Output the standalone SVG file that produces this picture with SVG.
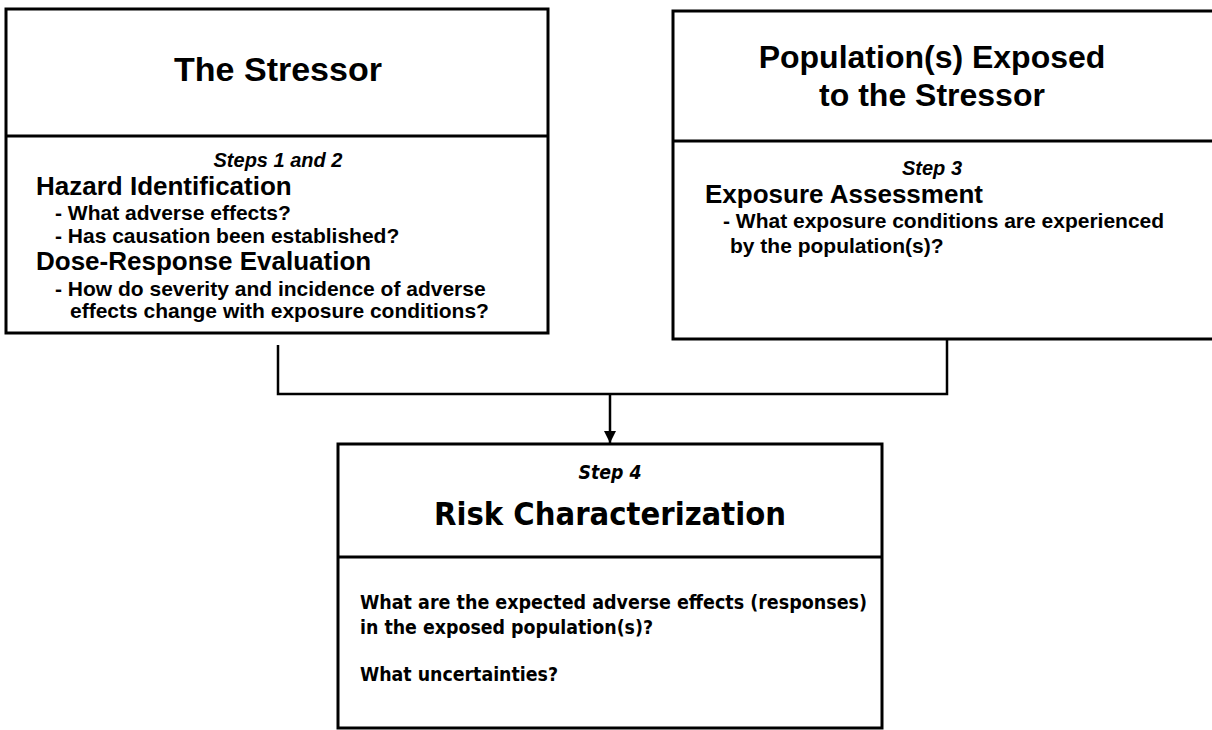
<svg xmlns="http://www.w3.org/2000/svg" width="1212" height="730" viewBox="0 0 1212 730">
  <style>
    .box { fill: #fff; stroke: #000; stroke-width: 3; }
    .div { stroke: #000; stroke-width: 3; }
    .wire { fill: none; stroke: #000; stroke-width: 2.5; }
    .title { font-family: "Liberation Sans", Arial, sans-serif; font-weight: bold; fill: #000; text-anchor: middle; }
    .step { font-family: "Liberation Sans", Arial, sans-serif; font-weight: bold; font-style: italic; font-size: 20px; fill: #000; text-anchor: middle; }
    .head { font-family: "Liberation Sans", Arial, sans-serif; font-weight: bold; font-size: 26px; fill: #000; }
    .item { font-family: "Liberation Sans", Arial, sans-serif; font-weight: bold; font-size: 21px; fill: #000; }
    .narrow { font-family: "Liberation Sans Narrow", "DejaVu Sans Condensed", "Liberation Sans", sans-serif; font-stretch: condensed; font-weight: bold; fill: #000; }
  </style>
  <defs>
    <marker id="arrow" markerUnits="userSpaceOnUse" markerWidth="14" markerHeight="14" refX="12" refY="6" orient="auto">
      <path d="M0,0 L12,6 L0,12 Z" fill="#000"/>
    </marker>
  </defs>
  <rect width="1212" height="730" fill="#fff"/>

  <!-- connectors -->
  <g id="connectors">
    <path class="wire" d="M278,345 V394 H947 V339"/>
    <path class="wire" d="M610,394 V443" marker-end="url(#arrow)"/>
  </g>

  <!-- stressor: hazard identification and dose-response -->
  <g id="node-stressor">
    <rect class="box" x="6" y="9" width="542" height="324"/>
    <line class="div" x1="6" y1="136" x2="548" y2="136"/>
    <text class="title" x="278" y="81" font-size="34">The Stressor</text>
    <text class="step" x="278" y="167">Steps 1 and 2</text>
    <text class="head" x="36" y="195">Hazard Identification</text>
    <text class="item" x="55" y="220">- What adverse effects?</text>
    <text class="item" x="55" y="243">- Has causation been established?</text>
    <text class="head" x="36" y="270">Dose-Response Evaluation</text>
    <text class="item" x="55" y="296">- How do severity and incidence of adverse</text>
    <text class="item" x="70" y="318">effects change with exposure conditions?</text>
  </g>

  <!-- exposed populations: exposure assessment -->
  <g id="node-population">
    <rect class="box" x="673" y="11" width="560" height="328"/>
    <line class="div" x1="673" y1="141" x2="1212" y2="141"/>
    <text class="title" x="932" y="68" font-size="32">Population(s) Exposed</text>
    <text class="title" x="932" y="106" font-size="32">to the Stressor</text>
    <text class="step" x="932" y="175">Step 3</text>
    <text class="head" x="705" y="203">Exposure Assessment</text>
    <text class="item" x="723" y="228">- What exposure conditions are experienced</text>
    <text class="item" x="730" y="253">by the population(s)?</text>
  </g>

  <!-- risk characterization -->
  <g id="node-risk">
    <rect class="box" x="338" y="444" width="544" height="284"/>
    <line class="div" x1="338" y1="557" x2="882" y2="557"/>
    <text class="narrow" x="610" y="479" font-size="19" font-style="italic" text-anchor="middle" textLength="63" lengthAdjust="spacingAndGlyphs">Step 4</text>
    <text class="narrow" x="610" y="525" font-size="32" text-anchor="middle" textLength="352" lengthAdjust="spacingAndGlyphs">Risk Characterization</text>
    <text class="narrow" x="360" y="609" font-size="20" textLength="507" lengthAdjust="spacingAndGlyphs">What are the expected adverse effects (responses)</text>
    <text class="narrow" x="360" y="634" font-size="20" textLength="293" lengthAdjust="spacingAndGlyphs">in the exposed population(s)?</text>
    <text class="narrow" x="360" y="681" font-size="20" textLength="198" lengthAdjust="spacingAndGlyphs">What uncertainties?</text>
  </g>
</svg>
